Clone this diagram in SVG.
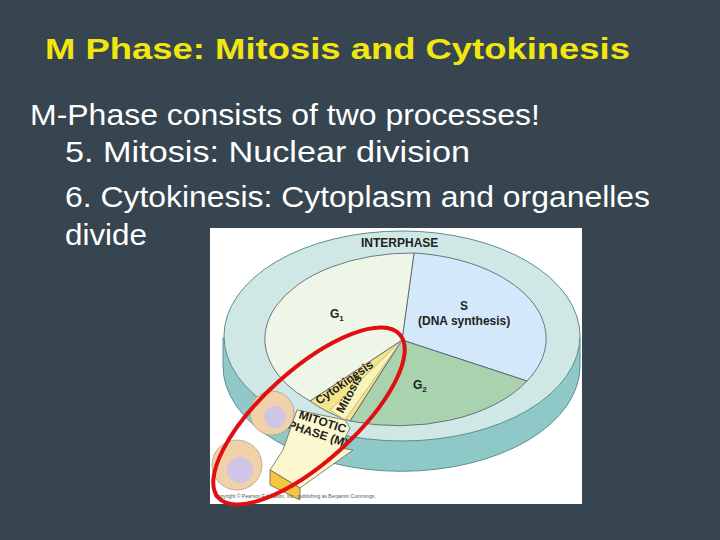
<svg xmlns="http://www.w3.org/2000/svg" width="720" height="540" viewBox="0 0 720 540">
<style>
.t{font-family:"Liberation Sans",Arial,sans-serif;fill:#fff;font-size:29px}
.l{font-family:"Liberation Sans",Arial,sans-serif;font-weight:bold;fill:#222;font-size:12px}
</style>
<rect width="720" height="540" fill="#36454f"/>
<text x="45" y="59" font-family="Liberation Sans,Arial,sans-serif" font-weight="bold" font-size="29" fill="#f2e60f" textLength="585" lengthAdjust="spacingAndGlyphs">M Phase:  Mitosis and Cytokinesis</text>
<text class="t" x="30" y="125" textLength="510" lengthAdjust="spacingAndGlyphs">M-Phase consists of two processes!</text>
<text class="t" x="65" y="162" textLength="405" lengthAdjust="spacingAndGlyphs">5. Mitosis: Nuclear division</text>
<text class="t" x="65" y="207" textLength="585" lengthAdjust="spacingAndGlyphs">6. Cytokinesis: Cytoplasm and organelles</text>
<text class="t" x="65" y="245" textLength="82" lengthAdjust="spacingAndGlyphs">divide</text>
<g id="figure">
<rect x="210" y="228" width="372" height="276" fill="#fff"/>
<path d="M223 338 L223 366 A178 105 0 0 0 580 366 L580 338 Z" fill="#8fc9c7" stroke="#5a8f8d" stroke-width="1"/>
<ellipse cx="402" cy="336" rx="178" ry="105" fill="#cfe8e6" stroke="#5a8f8d" stroke-width="1"/>
<text class="l" x="361" y="247" font-size="12">INTERPHASE</text>
<path d="M402 340 L414 253 A147 86 0 0 1 527 381 Z" fill="#d4e8fb" stroke="#556" stroke-width="0.8"/>
<path d="M402 340 L527 381 A147 86 0 0 1 350 421 Z" fill="#a9d3ae" stroke="#556" stroke-width="0.8"/>
<path d="M402 340 L350 421 A147 86 0 0 1 310 401 Z" fill="#f5e58a" stroke="#556" stroke-width="0.8"/>
<path d="M402 340 L310 401 A147 86 0 0 1 414 253 Z" fill="#eef6e8" stroke="#556" stroke-width="0.8"/>
<path d="M402 340 L330 410 L345 420 Z" fill="#fbf4b8" stroke="#998" stroke-width="0.6"/>
<text class="l" x="330" y="318">G<tspan font-size="8" dy="3">1</tspan></text>
<text class="l" x="460" y="310">S</text>
<text class="l" x="418" y="325" font-size="11">(DNA synthesis)</text>
<text class="l" x="413" y="389">G<tspan font-size="8" dy="3">2</tspan></text>
<text class="l" font-size="9" transform="translate(319,405) rotate(-35)">Cytokinesis</text>
<text class="l" font-size="9" transform="translate(343,414) rotate(-62)">Mitosis</text>
<path d="M297 410 L345 420 L350 428 L340 448 L353 450 L300 488 L270 470 L283 450 Z" fill="#fdf7cf" stroke="#665" stroke-width="0.8"/>
<path d="M270 470 L300 488 L300 500 L270 485 Z" fill="#f3c63f" stroke="#665" stroke-width="0.8"/>
<text class="l" font-size="10" transform="translate(298,418) rotate(18)">MITOTIC</text>
<text class="l" font-size="10" transform="translate(287,428) rotate(18)">PHASE (M)</text>
<ellipse cx="272" cy="413" rx="22" ry="22" fill="#f1d2a8" stroke="#b99" stroke-width="0.8"/>
<circle cx="275" cy="417" r="11" fill="#cfc6e6"/>
<ellipse cx="237" cy="465" rx="25" ry="25" fill="#f1d2a8" stroke="#b99" stroke-width="0.8"/>
<circle cx="240" cy="470" r="13" fill="#cfc6e6"/>
<text x="214" y="498" font-family="Liberation Sans,Arial,sans-serif" font-size="5" fill="#555">Copyright © Pearson Education, Inc., publishing as Benjamin Cummings.</text>
<ellipse cx="309" cy="416" rx="122" ry="46" transform="rotate(-42 309 416)" fill="none" stroke="#e01010" stroke-width="4"/>
</g>
</svg>
